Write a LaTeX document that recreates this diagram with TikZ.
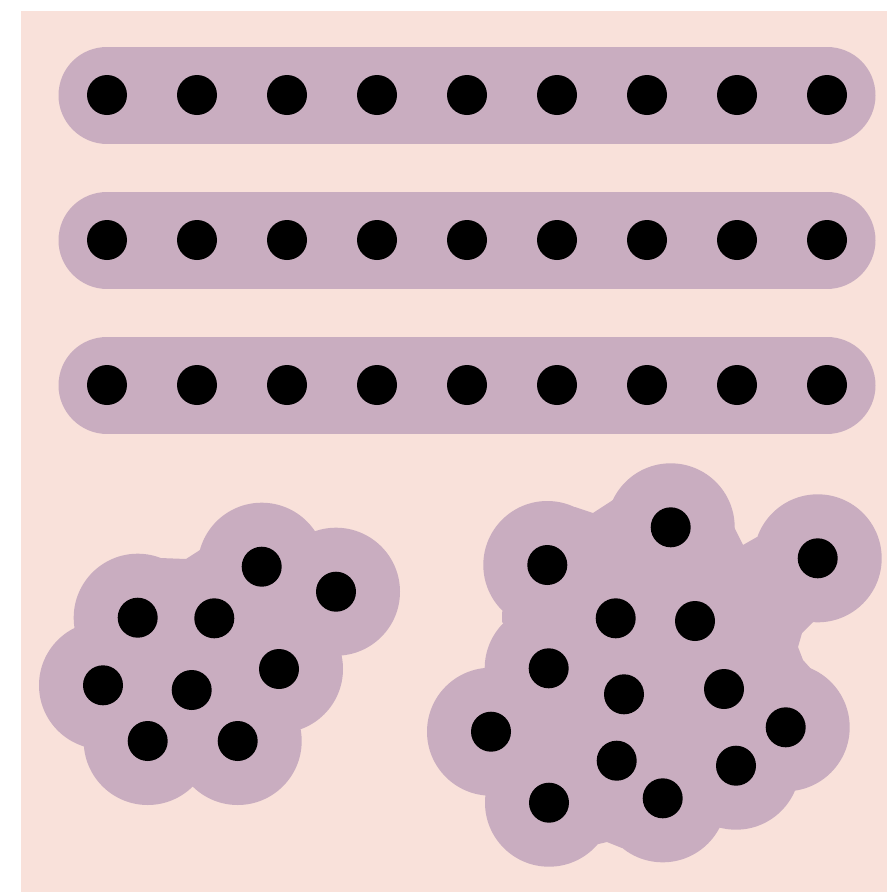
\documentclass[tikz,border=0pt]{standalone}
\usepackage{tikz}
\definecolor{peach}{RGB}{249,225,218}
\definecolor{mauve}{RGB}{201,173,192}

\begin{document}
\begin{tikzpicture}[
  x=1pt, y=-1pt,
  dot/.style={circle, fill=black, inner sep=0pt, minimum size=40pt},
  band/.style={draw=mauve, line width=97pt, line cap=round},
  lobe/.style={fill=mauve}
]
\useasboundingbox (0,0) rectangle (887,892);
\fill[peach] (21,11) rectangle (887,892);

% three rows in a band
\foreach \r/\y in {1/95, 2/240, 3/385} {
  \foreach \c in {1,...,9}
    \coordinate (r\r c\c) at ({17+90*\c},\y);
  \draw[band] (r\r c1) -- (r\r c9);
  \foreach \c in {1,...,9}
    \node[dot] (dr\r c\c) at (r\r c\c) {};
}

% small cluster
\foreach \n/\p in {1/{261.7,566.7}, 2/{336,591.7}, 3/{137.7,617.7},
                   4/{214.3,618.3}, 5/{279,669}, 6/{103,685.3},
                   7/{191.7,690}, 8/{147.7,741}, 9/{237.7,741}}
  \coordinate (a\n) at (\p);
\fill[lobe] \foreach \n in {1,...,9} {(a\n) circle[radius=64pt]};
\fill[lobe] (a3) -- (160,558) -- (186,559) -- (200,550) -- (a1) -- (a4) -- cycle;

% big cluster
\foreach \n/\p in {1/{670.7,527.3}, 2/{547.3,565}, 3/{817.7,558.3},
                   4/{615.7,618.3}, 5/{695,621}, 6/{548.7,668.3},
                   7/{624,694.3}, 8/{724,689}, 9/{491,731.7},
                   10/{785.7,727.3}, 11/{616.7,760.7}, 12/{736,765.7},
                   13/{549,802.7}, 14/{662.7,798.3}}
  \coordinate (b\n) at (\p);
\fill[lobe] \foreach \n in {1,...,14} {(b\n) circle[radius=64pt]};
% filler between the lobes
\fill[lobe] (b2) -- (575,507) -- (593,513) -- (613,500) -- (b1)
  -- (734,527) -- (743,545) -- (757,537) -- (b3)
  -- (814,621) -- (802,633) -- (798,647) -- (803,660) -- (812,670)
  -- (b10) -- (b12) -- (b14) -- (622,848) -- (607,842) -- (590,846)
  -- (b13) -- (b9) -- (b6) -- (502,622) -- (502,612) -- cycle;

\foreach \n in {1,...,9}
  \node[dot] (da\n) at (a\n) {};
\foreach \n in {1,...,14}
  \node[dot] (db\n) at (b\n) {};
\end{tikzpicture}
\end{document}
